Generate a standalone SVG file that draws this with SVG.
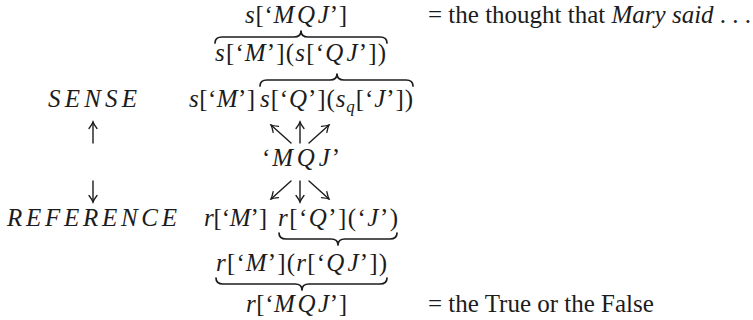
<svg xmlns="http://www.w3.org/2000/svg" width="753" height="320" viewBox="0 0 753 320">
<defs>
<style>
text{font-family:"Liberation Serif","Times New Roman",serif;font-size:25px;fill:#1c1c1c}
.i{font-style:italic}
.sub{font-size:17px;font-style:italic}
.br{fill:none;stroke:#1c1c1c;stroke-width:1.7;stroke-linecap:round;stroke-linejoin:round}
.ar{fill:none;stroke:#1c1c1c;stroke-width:1.4;stroke-linecap:round}
</style>
<marker id="ah" viewBox="-8 -5 10 10" markerWidth="10" markerHeight="10" refX="0" refY="0" orient="auto" markerUnits="userSpaceOnUse">
<path d="M-6.5,-4 Q-2,-0.7 0,0 Q-2,0.7 -6.5,4" fill="none" stroke="#1c1c1c" stroke-width="1.3" stroke-linecap="round"/>
</marker>
</defs>
<rect width="753" height="320" fill="#fff"/>

<g id="sense-top">
<text x="245" y="23" textLength="102" lengthAdjust="spacing"><tspan class="i">s</tspan>[‘<tspan class="i">M<tspan dx="2">Q</tspan><tspan dx="2">J</tspan></tspan>’]</text>
<text x="428" y="23">= the thought that <tspan class="i">Mary said</tspan> . . .</text>
</g>
<g id="sense-mid">
<text x="215" y="61" textLength="171" lengthAdjust="spacing"><tspan class="i">s</tspan>[‘<tspan class="i">M</tspan>’](<tspan class="i">s</tspan>[‘<tspan class="i">Q<tspan dx="2">J</tspan></tspan>’])</text>
</g>
<g id="sense-low">
<text class="i" x="48" y="107" textLength="89" lengthAdjust="spacing">SENSE</text>
<text x="189" y="107" textLength="66" lengthAdjust="spacing"><tspan class="i">s</tspan>[‘<tspan class="i">M</tspan>’]</text>
<text x="260" y="107" textLength="153" lengthAdjust="spacing"><tspan class="i">s</tspan>[‘<tspan class="i">Q</tspan>’](<tspan class="i">s</tspan><tspan class="sub" dy="5">q</tspan><tspan dy="-5">[‘</tspan><tspan class="i">J</tspan>’])</text>
</g>
<g id="mqj">
<text x="262" y="166" textLength="78" lengthAdjust="spacing">‘<tspan class="i">M<tspan dx="2">Q</tspan><tspan dx="2">J</tspan></tspan>’</text>
</g>
<g id="ref-low">
<text class="i" x="7" y="226" textLength="170" lengthAdjust="spacing">REFERENCE</text>
<text x="204" y="226" textLength="63" lengthAdjust="spacing"><tspan class="i">r</tspan>[‘<tspan class="i">M</tspan>’]</text>
<text x="278" y="226" textLength="120" lengthAdjust="spacing"><tspan class="i">r</tspan>[‘<tspan class="i">Q</tspan>’](‘<tspan class="i">J</tspan>’)</text>
</g>
<g id="ref-mid">
<text x="216" y="271" textLength="171" lengthAdjust="spacing"><tspan class="i">r</tspan>[‘<tspan class="i">M</tspan>’](<tspan class="i">r</tspan>[‘<tspan class="i">Q<tspan dx="2">J</tspan></tspan>’])</text>
</g>
<g id="ref-top">
<text x="246" y="312" textLength="101" lengthAdjust="spacing"><tspan class="i">r</tspan>[‘<tspan class="i">M<tspan dx="2">Q</tspan><tspan dx="2">J</tspan></tspan>’]</text>
<text x="428" y="312">= the True or the False</text>
</g>

<g id="connectors">
<path class="br" d="M215,43 Q215,37 222,37 H294 Q301,37 301,31 Q301,37 308,37 H380 Q387,37 387,43"/>
<path class="br" d="M260,86 Q260,80 267,80 H330 Q337,80 337,74 Q337,80 344,80 H406 Q413,80 413,86"/>
<path class="br" d="M279,233 Q279,239 286,239 H331 Q338,239 338,245 Q338,239 345,239 H390 Q397,239 397,233"/>
<path class="br" d="M216,278 Q216,284 223,284 H295 Q302,284 302,290 Q302,284 309,284 H380 Q387,284 387,278"/>
<path class="ar" marker-end="url(#ah)" d="M93,143 V122"/>
<path class="ar" marker-end="url(#ah)" d="M93,181 V202"/>
<path class="ar" marker-end="url(#ah)" d="M291,143 L271,125"/>
<path class="ar" marker-end="url(#ah)" d="M300,143 V122"/>
<path class="ar" marker-end="url(#ah)" d="M309,143 L329,125"/>
<path class="ar" marker-end="url(#ah)" d="M291,181 L271,199"/>
<path class="ar" marker-end="url(#ah)" d="M300,181 V202"/>
<path class="ar" marker-end="url(#ah)" d="M309,181 L329,199"/>
</g>
</svg>
